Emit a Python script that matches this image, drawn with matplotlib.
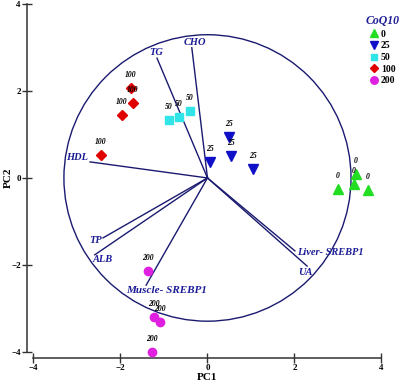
import matplotlib
matplotlib.use("Agg")
import matplotlib.pyplot as plt
from matplotlib.lines import Line2D
from matplotlib.patches import Circle

plt.rcParams["font.family"] = ["Liberation Serif", "DejaVu Serif"]
plt.rcParams["font.weight"] = "bold"

# scores per CoQ10 dose group (PC1, PC2)
groups = ["0", "25", "50", "100", "200"]
pc1_0 = [3.00, 3.41, 3.37, 3.69]
pc2_0 = [-0.25, 0.09, -0.14, -0.28]
pc1_25 = [0.49, 0.54, 0.06, 1.05]
pc2_25 = [0.94, 0.51, 0.37, 0.21]
pc1_50 = [-0.88, -0.66, -0.40]
pc2_50 = [1.34, 1.41, 1.54]
pc1_100 = [-1.76, -1.71, -1.97, -2.45]
pc2_100 = [2.07, 1.73, 1.45, 0.53]
pc1_200 = [-1.37, -1.23, -1.09, -1.28]
pc2_200 = [-2.14, -3.20, -3.32, -4.00]

# loadings (end of each vector)
variables = ["CHO", "TG", "HDL", "TP", "ALB", "Muscle- SREBP1", "Liver- SREBP1", "UA"]
load_pc1 = [-0.36, -1.16, -2.70, -2.40, -2.59, -1.41, 2.01, 2.29]
load_pc2 = [3.00, 2.76, 0.37, -1.38, -1.77, -2.47, -1.68, -2.03]
circle_radius = 3.3

# label placement for the loading names (data coords)
var_label_pos = [(-0.29, 3.13), (-1.18, 2.90), (-3.00, 0.46), (-2.58, -1.43),
                 (-2.40, -1.89), (-0.95, -2.60), (2.82, -1.71), (2.24, -2.17)]

navy = "#1a1a70"
label_blue = "#1c1c96"
styles = {
    "0": dict(marker="^", color="#22dd22", ms=6.5),
    "25": dict(marker="v", color="#1010c8", ms=6.5),
    "50": dict(marker="s", color="#30e4e8", ms=5.5),
    "100": dict(marker="D", color="#e00000", ms=5),
    "200": dict(marker="o", color="#e020e0", ms=6),
}
scores = {
    "0": (pc1_0, pc2_0),
    "25": (pc1_25, pc2_25),
    "50": (pc1_50, pc2_50),
    "100": (pc1_100, pc2_100),
    "200": (pc1_200, pc2_200),
}

fig = plt.figure(figsize=(4.02, 3.85), dpi=100)
ax = fig.add_axes([0.0508, 0.053, 0.9306, 0.947])
ax.set_xlim(-4.3, 4.3)
ax.set_ylim(-4.3, 4.1)

ax.add_patch(Circle((0, 0), circle_radius, fill=False, ec=navy, lw=1.0, zorder=1))

for name, x, y, (lx, ly) in zip(variables, load_pc1, load_pc2, var_label_pos):
    ax.plot([0, x], [0, y], color=navy, lw=1.0, zorder=2)
    size = 8 if name.startswith("Muscle") else 7.5
    ax.text(lx, ly, name, color=label_blue, fontsize=size, fontstyle="italic",
            fontweight="bold", ha="center", va="center", zorder=5)

for g in groups:
    xs, ys = scores[g]
    st = styles[g]
    ax.plot(xs, ys, ls="none", marker=st["marker"], color=st["color"],
            ms=st["ms"], mec=st["color"], zorder=3)
    for x, y in zip(xs, ys):
        ax.annotate(g, (x, y), xytext=(0, 6.5), textcoords="offset points",
                    ha="center", va="bottom", fontsize=5.5, fontstyle="italic",
                    fontweight="bold", color="black", zorder=4)

for side in ["top", "right"]:
    ax.spines[side].set_visible(False)
ax.spines["bottom"].set_position(("data", -4.15))
ax.spines["left"].set_position(("data", -4.15))
ax.spines["bottom"].set_bounds(-4, 4)
ax.spines["left"].set_bounds(-4, 4)
for side in ["bottom", "left"]:
    ax.spines[side].set_color("#333333")
    ax.spines[side].set_linewidth(1.1)
ax.set_xticks([-4, -2, 0, 2, 4])
ax.set_yticks([-4, -2, 0, 2, 4])
ax.tick_params(direction="inout", length=7, width=1.0, color="#333333",
               labelsize=6.5, pad=1)
for lab in ax.get_xticklabels() + ax.get_yticklabels():
    lab.set_fontweight("bold")

fig.text(207.5 / 402, 1 - 377 / 385, "PC1", ha="center", va="center",
         fontsize=8, fontweight="bold")
fig.text(8 / 402, 1 - 178 / 385, "PC2", ha="center", va="center",
         fontsize=8, fontweight="bold", rotation=90)

handles = [Line2D([], [], ls="none", marker=styles[g]["marker"],
                  color=styles[g]["color"], ms=styles[g]["ms"] * 0.9) for g in groups]
leg = ax.legend(handles, groups, title="CoQ10", loc="upper left",
                bbox_to_anchor=(359 / 402, 1 - 8 / 385),
                bbox_transform=fig.transFigure, frameon=False, fontsize=7,
                handlelength=0.8, handletextpad=0.3, labelspacing=0.28,
                borderpad=0.2)
leg.get_title().set_fontstyle("italic")
leg.get_title().set_fontweight("bold")
leg.get_title().set_fontsize(8.5)
leg.get_title().set_color(label_blue)
for t in leg.get_texts():
    t.set_fontweight("bold")

fig.savefig("out.png", dpi=100)
